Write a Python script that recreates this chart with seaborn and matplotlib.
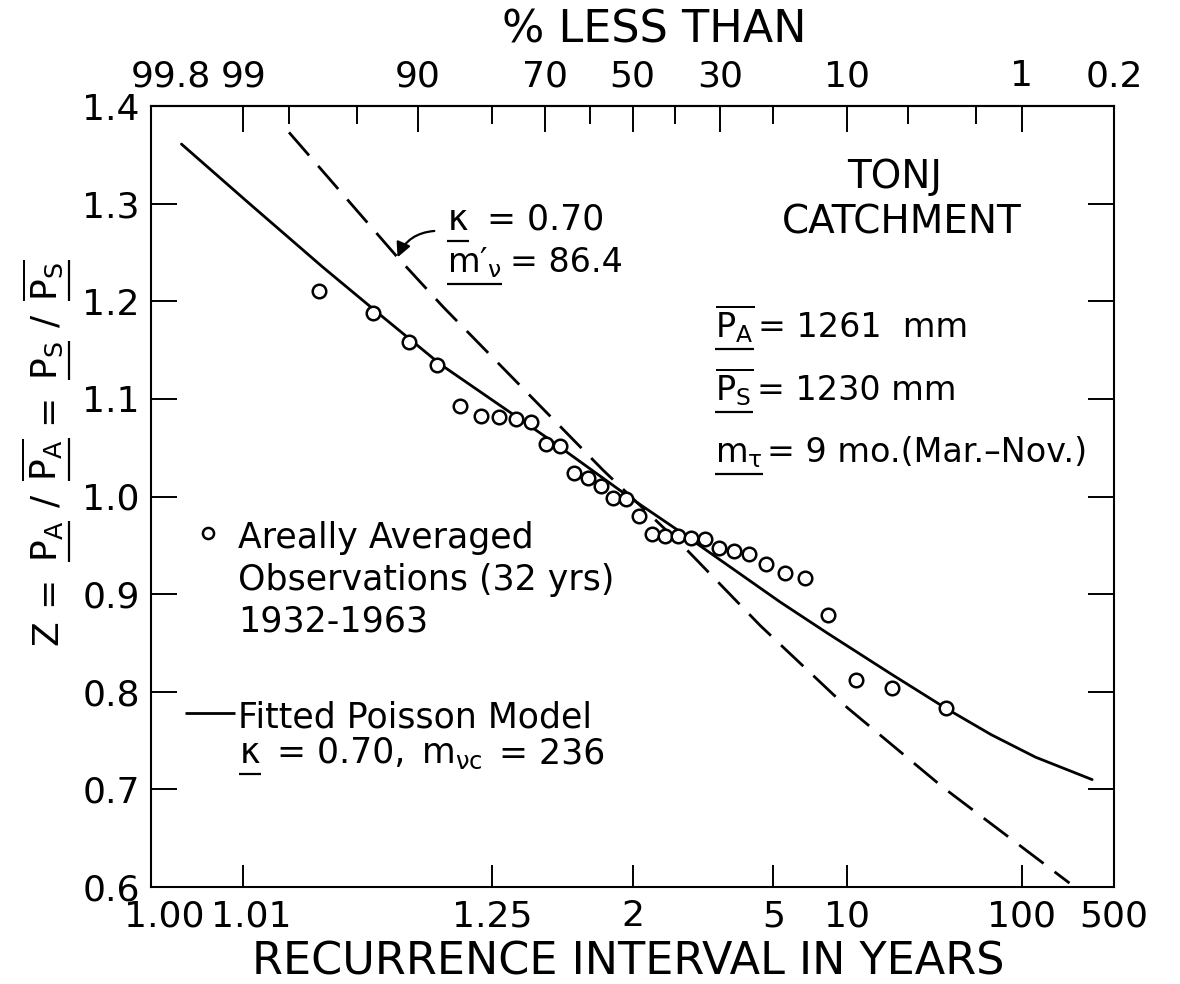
import numpy as np
import pandas as pd
import matplotlib
matplotlib.use("Agg")
import matplotlib.pyplot as plt
from matplotlib.lines import Line2D
from matplotlib.transforms import ScaledTranslation
import seaborn as sns
from statistics import NormalDist

# ---------------------------------------------------------------- data
# ranked areally averaged ratios Z with their plotting positions (% less than)
obs_pct_less = [96.97, 93.94, 90.91, 87.88, 84.85, 81.82, 78.79, 75.76,
                72.73, 69.70, 66.67, 63.64, 60.61, 57.58, 54.55, 51.52,
                48.48, 45.45, 42.42, 39.39, 36.36, 33.33, 30.30, 27.27,
                24.24, 21.21, 18.18, 15.15, 12.12, 9.09, 6.06, 3.03]
obs_z = [1.211, 1.188, 1.158, 1.135, 1.093, 1.082, 1.081, 1.079,
         1.076, 1.054, 1.052, 1.024, 1.019, 1.011, 0.998, 0.997,
         0.980, 0.962, 0.960, 0.960, 0.958, 0.956, 0.947, 0.944,
         0.941, 0.931, 0.922, 0.917, 0.879, 0.812, 0.804, 0.783]

# fitted Poisson model (kappa = 0.70, m_vc = 236)
fit_pct_less = [99.65, 98.9, 96.8, 93.6, 87.4, 69.5, 50.0, 39.5,
                18.9, 12.2, 6.2, 3.05, 1.6, 0.80, 0.30]
fit_z = [1.361, 1.300, 1.235, 1.188, 1.135, 1.060, 0.997, 0.966,
         0.892, 0.860, 0.819, 0.783, 0.756, 0.733, 0.710]

# model with kappa = 0.70, m'_v = 86.4
alt_pct_less = [98.0, 92.0, 87.1, 71.6, 57.0, 37.2, 22.3, 10.0, 3.17, 0.45]
alt_z = [1.373, 1.245, 1.194, 1.096, 1.027, 0.945, 0.868, 0.784, 0.702, 0.604]

# axis ticks
top_major = [99.8, 99, 90, 70, 50, 30, 10, 1, 0.2]
top_major_labels = ["99.8", "99", "90", "70", "50", "30", "10", "1", "0.2"]
top_minor = [98, 95, 80, 60, 40, 20, 5, 2]
bottom_years = [1.002, 1.01, 1.25, 2, 5, 10, 100, 500]
bottom_labels = ["1.00", "1.01", "1.25", "2", "5", "10", "100", "500"]
y_ticks = [0.6, 0.7, 0.8, 0.9, 1.0, 1.1, 1.2, 1.3, 1.4]
y_labels = ["0.6", "0.7", "0.8", "0.9", "1.0", "1.1", "1.2", "1.3", "1.4"]

# ---------------------------------------------------------------- style
W, H, DPI = 1180, 984, 100
sns.set_style("white")
plt.rcParams.update({
    "font.family": ["DejaVu Sans"],
    "mathtext.default": "regular",
    "mathtext.fontset": "dejavusans",
    "axes.edgecolor": "black",
    "axes.linewidth": 1.5,
    "text.color": "black",
    "xtick.color": "black",
    "ytick.color": "black",
})

nd = NormalDist()


def pct_to_u(p):
    """Normal-probability coordinate for a '% less than' value."""
    return np.array([-nd.inv_cdf(v / 100.0) for v in np.atleast_1d(p)])


def years_to_u(t):
    """Normal-probability coordinate for a recurrence interval in years."""
    return np.array([-nd.inv_cdf(1.0 / v) for v in np.atleast_1d(t)])


fig = plt.figure(figsize=(W / DPI, H / DPI), dpi=DPI)
ax = fig.add_axes([151 / W, 1 - 887 / H, (1114 - 151) / W, (887 - 106) / H])

obs = pd.DataFrame({"u": pct_to_u(obs_pct_less), "Z": obs_z})
fit = pd.DataFrame({"u": pct_to_u(fit_pct_less), "Z": fit_z})
alt = pd.DataFrame({"u": pct_to_u(alt_pct_less), "Z": alt_z})

sns.lineplot(data=alt, x="u", y="Z", sort=False, estimator=None,
             color="black", lw=2.0, ax=ax)
ax.lines[-1].set_dashes([11, 5])
sns.lineplot(data=fit, x="u", y="Z", sort=False, estimator=None,
             color="black", lw=2.0, ax=ax)
sns.scatterplot(data=obs, x="u", y="Z", marker="o", s=95, linewidth=1.8,
                ax=ax, zorder=3)
pts = ax.collections[-1]
pts.set_facecolor("white")
pts.set_edgecolor("black")

ax.set_xlim(pct_to_u(99.8)[0], pct_to_u(0.2)[0])
ax.set_ylim(0.6, 1.4)
ax.set_xlabel("")
ax.set_ylabel("")
for s in ax.spines.values():
    s.set_visible(True)
    s.set_linewidth(1.5)
    s.set_color("black")

# bottom: recurrence interval
ax.set_xticks(years_to_u(bottom_years), labels=bottom_labels)
ax.tick_params(axis="x", which="major", direction="in", length=16, width=1.4,
               pad=9, labelsize=26, bottom=True, top=False)
# left / right: Z
ax.set_yticks(y_ticks, labels=y_labels)
ax.tick_params(axis="y", which="major", direction="in", length=19, width=1.4,
               pad=8, labelsize=26, left=True, right=True)

# top: percent less than
sec = ax.secondary_xaxis("top")
sec.set_xticks(pct_to_u(top_major), labels=top_major_labels)
sec.set_xticks(pct_to_u(top_minor), minor=True)
sec.tick_params(axis="x", which="major", direction="in", length=19, width=1.4,
                pad=9, labelsize=26)
sec.tick_params(axis="x", which="minor", direction="in", length=13, width=1.4)
sec.spines["top"].set_linewidth(1.5)


def nudge(label, dx):
    label.set_transform(label.get_transform()
                        + ScaledTranslation(dx / DPI, 0, fig.dpi_scale_trans))


# keep the corner labels clear of the frame corner
bt = ax.xaxis.get_major_ticks()
nudge(bt[0].label1, 13)
nudge(bt[1].label1, 8)
st = sec.xaxis.get_major_ticks()
nudge(st[0].label1, 20)
nudge(st[0].label2, 20)

# axis titles
fig.text(628 / W, 1 - 962 / H, "RECURRENCE INTERVAL IN YEARS", fontsize=32,
         ha="center", va="center")
fig.text(654 / W, 1 - 30 / H, "% LESS THAN", fontsize=32,
         ha="center", va="center")

# ---------------------------------------------------------------- lettering
fig.canvas.draw()
rend = fig.canvas.get_renderer()


def rule(x0, y0, x1, y1, lw=1.6):
    fig.add_artist(Line2D([x0 / W, x1 / W], [y0 / H, y1 / H],
                          transform=fig.transFigure, color="black", lw=lw,
                          solid_capstyle="butt"))


def write_row(x, y, pieces, size, gap=7):
    """Pieces left to right on a baseline at (x, y) px from the top-left;
    flagged pieces are underlined."""
    cur = x
    for s, under in pieces:
        t = fig.text(cur / W, 1 - y / H, s, fontsize=size,
                     ha="left", va="baseline")
        bb = t.get_window_extent(rend)
        if under:
            rule(bb.x0, bb.y0 - 4, bb.x1, bb.y0 - 4)
        cur = bb.x1 + gap


def write_column(x, y, pieces, size, gap=9):
    """Pieces bottom to top, rotated, baseline at x px; underlined on the right."""
    cur = y
    for s, under in pieces:
        t = fig.text(x / W, 1 - cur / H, s, fontsize=size, rotation=90,
                     rotation_mode="anchor", ha="left", va="baseline")
        bb = t.get_window_extent(rend)
        if under:
            rule(bb.x1 + 4, bb.y0, bb.x1 + 4, bb.y1)
        cur = H - bb.y1 - gap


# y-axis title
write_column(57, 645, [("Z", False), ("=", False),
                       (r"$P_A$", True), ("/", False),
                       (r"$\overline{P_A}$", True), ("=", False),
                       (r"$P_S$", True), ("/", False),
                       (r"$\overline{P_S}$", True)], 26, gap=14)

# catchment block
fig.text(895 / W, 1 - 177 / H, "TONJ", fontsize=28, ha="center", va="center")
fig.text(902 / W, 1 - 222 / H, "CATCHMENT", fontsize=28, ha="center",
         va="center")
write_row(715, 337, [(r"$\overline{P_A}$", True), ("= 1261  mm", False)], 24, gap=4)
write_row(715, 400, [(r"$\overline{P_S}$", True), ("= 1230 mm", False)], 24, gap=4)
write_row(715, 462, [(r"$m_{\tau}$", True), ("= 9 mo.(Mar.–Nov.)", False)], 24, gap=4)

# label for the dashed model
write_row(447, 230, [(r"$\kappa$", True), ("= 0.70", False)], 25, gap=18)
write_row(447, 272, [(r"$m\prime_{\nu}$", True), ("= 86.4", False)], 24, gap=8)
ax.annotate("", xy=(pct_to_u(92.0)[0], 1.245), xycoords="data",
            xytext=(pct_to_u(88.2)[0], 1.272), textcoords="data",
            arrowprops=dict(arrowstyle="-|>", color="black", lw=1.6,
                            mutation_scale=22, shrinkA=0, shrinkB=0,
                            connectionstyle="arc3,rad=0.3"))

# key
fig.add_artist(Line2D([208 / W], [1 - 533 / H], transform=fig.transFigure,
                      marker="o", ms=8, mfc="white", mec="black", mew=1.8,
                      ls="none"))
write_row(238, 548, [("Areally Averaged", False)], 25)
write_row(238, 590, [("Observations (32 yrs)", False)], 25)
write_row(238, 632, [("1932-1963", False)], 25)
rule(185, H - 713, 235, H - 713, lw=2.0)
write_row(238, 728, [("Fitted Poisson Model", False)], 25)
write_row(239, 763, [(r"$\kappa$", True), ("= 0.70,", False),
                     (r"$m_{\nu c}$", False), ("= 236", False)], 25, gap=16)

fig.savefig("out.png", dpi=DPI, facecolor="white")
